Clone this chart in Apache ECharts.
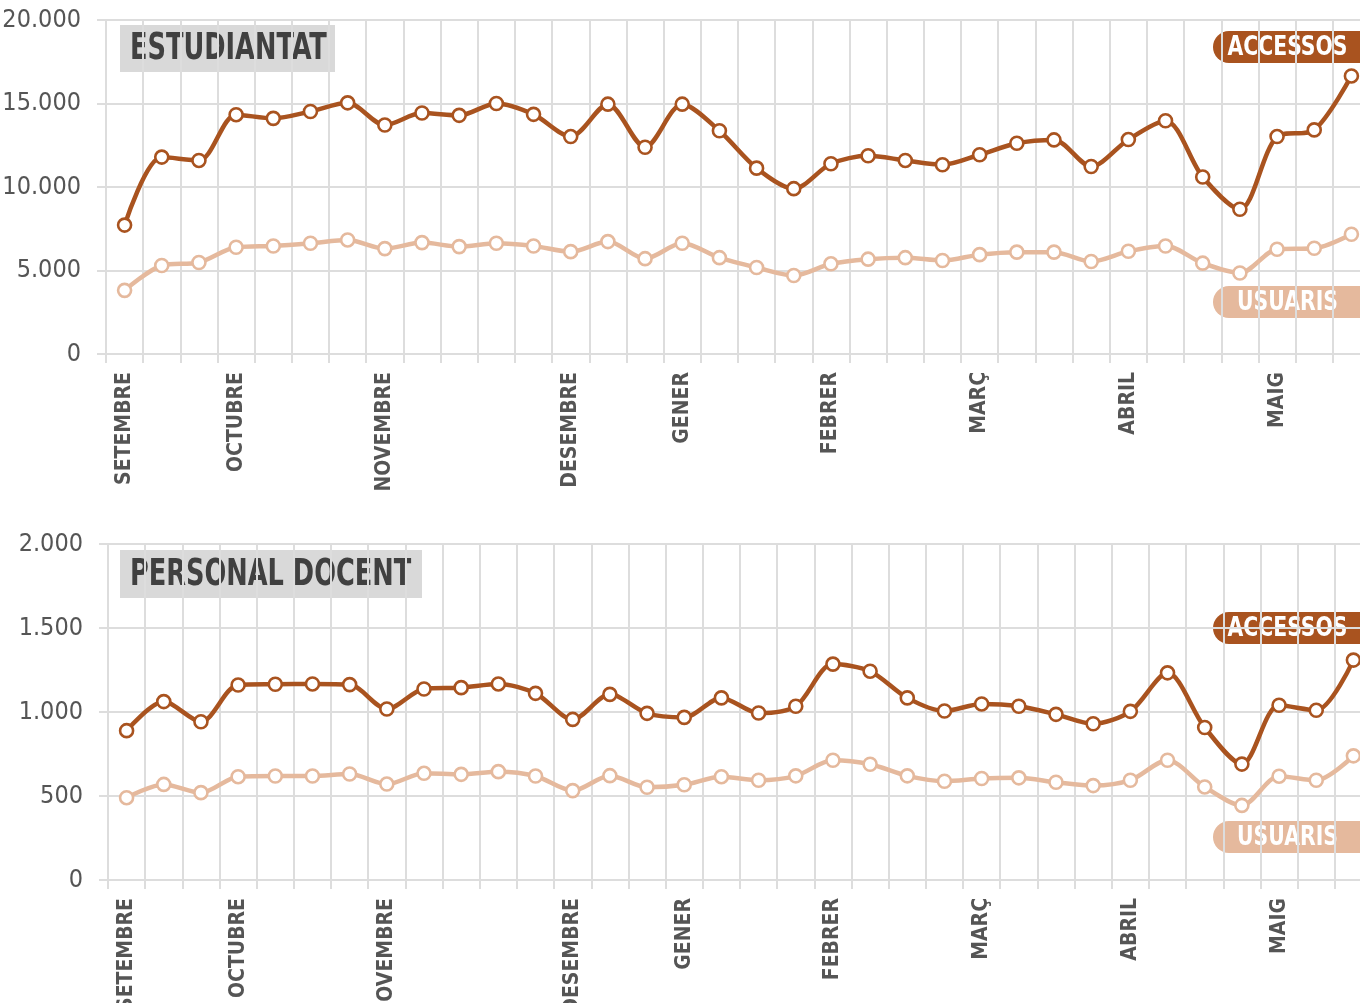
<!DOCTYPE html>
<html><head><meta charset="utf-8">
<script src="https://cdn.jsdelivr.net/npm/echarts@6/dist/echarts.min.js"></script>
<style>html,body{margin:0;padding:0;background:#fff}#c{width:1360px;height:1003px}</style>
</head><body><div id="c"></div>
<script>
var weeks = ["SETEMBRE","","","OCTUBRE","","","","NOVEMBRE","","","","","DESEMBRE","","","GENER","","","","FEBRER","","","","MARÇ","","","","ABRIL","","","","MAIG","",""];
var estAccessos = [7720, 11790, 11590, 14330, 14110, 14520, 15040, 13710, 14430, 14290, 15000, 14350, 13020, 14960, 12380, 14960, 13370, 11130, 9900, 11390, 11870, 11590, 11330, 11930, 12620, 12820, 11230, 12840, 13970, 10600, 8670, 13020, 13420, 16650];
var estUsuaris = [3810, 5300, 5480, 6390, 6470, 6630, 6830, 6310, 6670, 6430, 6630, 6470, 6130, 6730, 5710, 6630, 5770, 5180, 4700, 5400, 5680, 5770, 5600, 5950, 6100, 6100, 5540, 6150, 6470, 5440, 4850, 6270, 6330, 7170];
var pdiAccessos = [889, 1062, 942, 1161, 1165, 1167, 1163, 1018, 1137, 1145, 1167, 1111, 956, 1105, 992, 968, 1084, 994, 1034, 1285, 1243, 1084, 1006, 1048, 1034, 986, 930, 1004, 1233, 908, 690, 1040, 1010, 1309];
var pdiUsuaris = [490, 569, 520, 615, 619, 619, 631, 571, 635, 629, 645, 619, 532, 621, 552, 567, 615, 594, 620, 713, 689, 620, 588, 604, 608, 582, 562, 594, 713, 554, 444, 618, 594, 739];
var panelTitles = ["ESTUDIANTAT", "PERSONAL DOCENT"];
var seriesNames = ["ACCESSOS", "USUARIS"];

var FONT = "'DejaVu Sans Condensed','DejaVu Sans',sans-serif";
var DARK = '#a9531f', LIGHT = '#e5b99d', GRID = '#dddddd';
function fmt(v){ return String(v).replace(/\B(?=(\d{3})+(?!\d))/g, '.'); }

function xAx(gi){
  return {type:'category', gridIndex:gi, data:weeks, boundaryGap:true,
    axisLine:{show:false},
    axisTick:{show:true, interval:0, length:9, lineStyle:{color:GRID, width:2}},
    splitLine:{show:true, interval:0, lineStyle:{color:GRID, width:2}},
    axisLabel:{interval:0, rotate:90, margin:18, color:'#555', fontFamily:FONT, fontWeight:'bold', fontSize:21}};
}
function yAx(gi, max, step){
  return {type:'value', gridIndex:gi, min:0, max:max, interval:step,
    axisLine:{show:false},
    axisTick:{show:true, length:9, lineStyle:{color:GRID, width:2}},
    splitLine:{show:true, lineStyle:{color:GRID, width:2}},
    axisLabel:{margin:25, color:'#555', fontFamily:FONT, fontSize:25, padding:[0,0,4,0], formatter:fmt}};
}
function ser(name, gi, data, color, z){
  return {name:name, type:'line', xAxisIndex:gi, yAxisIndex:gi, data:data, smooth:0.3, z:z,
    symbol:'circle', symbolSize:13, showAllSymbol:true,
    lineStyle:{color:color, width:4.5},
    itemStyle:{color:'#fff', borderColor:color, borderWidth:2.6}};
}
function pill(y, text, color){
  return {type:'group', x:0, y:0, children:[
    {type:'rect', shape:{x:1213, y:y, width:170, height:32, r:16}, style:{fill:color}},
    {type:'text', x:1287.5, y:y+16.5, scaleX:0.84, style:{text:text, fill:'#fff', font:'bold 27px ' + FONT, textAlign:'center', textVerticalAlign:'middle'}}
  ]};
}
function titleBox(x, y, w, h, text){
  return {type:'group', x:0, y:0, children:[
    {type:'rect', shape:{x:x, y:y, width:w, height:h}, style:{fill:'#d9d9d9'}},
    {type:'text', x:x+10, y:y+h/2+1, scaleX:0.75, style:{text:text, fill:'#404040', font:'bold 38px ' + FONT, textAlign:'left', textVerticalAlign:'middle'}}
  ]};
}

var chart = echarts.init(document.getElementById('c'));
chart.setOption({
  animation:false,
  backgroundColor:'#fff',
  grid:[{left:106, top:20, width:1264, height:334, outerBoundsMode:'none', containLabel:false},
        {left:108, top:544, width:1264, height:336, outerBoundsMode:'none', containLabel:false}],
  xAxis:[xAx(0), xAx(1)],
  yAxis:[yAx(0, 20000, 5000), yAx(1, 2000, 500)],
  series:[
    ser(seriesNames[1], 0, estUsuaris, LIGHT, 2),
    ser(seriesNames[0], 0, estAccessos, DARK, 3),
    ser(seriesNames[1], 1, pdiUsuaris, LIGHT, 2),
    ser(seriesNames[0], 1, pdiAccessos, DARK, 3)
  ],
  graphic:[
    titleBox(120, 25, 215, 47, panelTitles[0]),
    titleBox(120, 550, 302, 48, panelTitles[1]),
    pill(31, seriesNames[0], DARK),
    pill(286, seriesNames[1], LIGHT),
    pill(612, seriesNames[0], DARK),
    pill(821, seriesNames[1], LIGHT)
  ]
});
</script></body></html>
